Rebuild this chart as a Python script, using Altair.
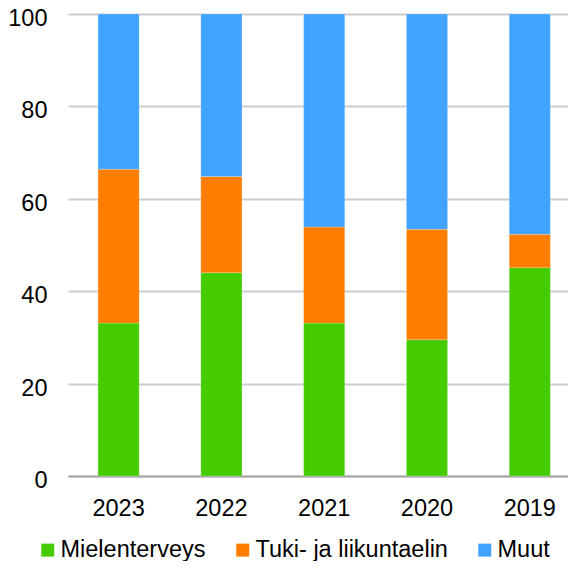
import altair as alt
import pandas as pd

years = ["2023", "2022", "2021", "2020", "2019"]
series = ["Mielenterveys", "Tuki- ja liikuntaelin", "Muut"]
mielenterveys = [33.1, 44.0, 33.1, 29.5, 45.1]
tuki = [33.3, 20.8, 20.8, 23.9, 7.2]
muut = [33.6, 35.2, 46.1, 46.6, 47.7]
colors = ["#45CC00", "#FF7D00", "#40A3FF"]
y_ticks = [0, 20, 40, 60, 80, 100]

rows = []
for i, y in enumerate(years):
    for k, (name, vals) in enumerate(zip(series, [mielenterveys, tuki, muut])):
        rows.append({"year": y, "series": name, "value": vals[i], "idx": k})
df = pd.DataFrame(rows)

FONT = "Liberation Sans"

chart = alt.Chart(df).mark_bar(stroke="white", strokeWidth=0.6, strokeOpacity=0.35).encode(
    x=alt.X("year:N", sort=years, title=None,
            scale=alt.Scale(paddingInner=0.6, paddingOuter=0.232, align=0.63),
            axis=alt.Axis(labelAngle=0, ticks=False, labelPadding=20,
                          domainColor="#a6a6a6", domainWidth=2,
                          labelFont=FONT, labelFontSize=23.5, labelColor="#000000")),
    y=alt.Y("value:Q", stack="zero", title=None,
            scale=alt.Scale(domain=[0, 100], nice=False),
            axis=alt.Axis(values=y_ticks, ticks=False, domain=False, labelPadding=21,
                          labelOffset=4.5,
                          gridColor="#cccccc", gridWidth=2,
                          labelFont=FONT, labelFontSize=23.5, labelColor="#000000")),
    color=alt.Color("series:N", sort=series,
                    scale=alt.Scale(domain=series, range=colors),
                    legend=alt.Legend(title=None, orient="none", direction="horizontal",
                                      legendX=-32, legendY=524,
                                      symbolType="square", symbolSize=169,
                                      symbolStrokeWidth=0, symbolOpacity=1,
                                      labelOffset=1, columnPadding=25, padding=0,
                                      labelFont=FONT, labelFontSize=23.5,
                                      labelColor="#000000", labelLimit=400)),
    order=alt.Order("idx:Q", sort="ascending"),
).properties(
    width=500, height=462,
    autosize=alt.AutoSizeParams(type="none"),
    padding={"left": 60, "top": 6, "right": 0, "bottom": 85},
).configure_view(stroke=None)

chart.save("out.html", embed_options={"renderer": "svg", "actions": False})
